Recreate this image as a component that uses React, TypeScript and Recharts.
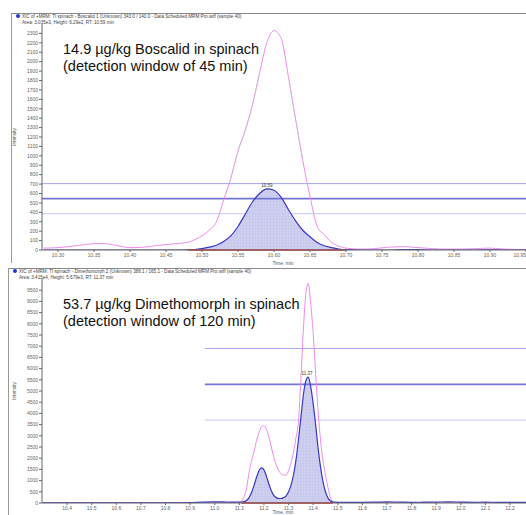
import React from 'react'
import { ComposedChart, Line, Area, XAxis, YAxis, ReferenceLine, ReferenceDot } from 'recharts'

const FONT = '"Liberation Sans", Arial, sans-serif'

// ---- Boscalid (top panel) ----
const boscalidTime = [
  10.28, 10.30, 10.32, 10.34, 10.36, 10.38, 10.40, 10.42, 10.44, 10.46, 10.48,
  10.49, 10.50, 10.51, 10.52, 10.53, 10.54, 10.55, 10.56, 10.57, 10.58, 10.59,
  10.60, 10.61, 10.62, 10.63, 10.64, 10.65, 10.66, 10.67, 10.68, 10.69, 10.70,
  10.72, 10.74, 10.76, 10.78, 10.80, 10.82, 10.84, 10.86, 10.88, 10.90, 10.92, 10.95,
]
const boscalidPink = [
  20, 25, 40, 60, 70, 50, 25, 30, 50, 65, 80,
  110, 150, 210, 300, 530, 760, 1050, 1270, 1540, 1880, 2200,
  2330, 2250, 1840, 1390, 950, 570, 250, 160, 80, 40, 20,
  10, 15, 30, 35, 25, 15, 10, 10, 15, 20, 10, 5,
]
const boscalidGrey = [
  null, null, null, null, null, null, null, null, null, null, null,
  null, null, null, null, null, 760, 1050, 1270, 1540, 1880, null,
  null, null, 1840, 1390, 950, null, null, null, null, null, null,
  null, null, null, null, null, null, null, null, null, null, null, null,
]
const boscalidBlue = [
  0, 0, 0, 0, 0, 0, 0, 0, 0, 0, 2,
  5, 15, 30, 50, 90, 150, 250, 380, 510, 600, 650,
  635, 560, 430, 310, 210, 140, 80, 45, 25, 10, 3,
  0, 0, 0, 5, 3, 0, 0, 0, 0, 2, 0, 0,
]
const boscalidWindow = [10.48, 10.70]
const boscalidLimits = [705, 545, 385]
const boscalidApex = { t: 10.59, v: 650, label: '10.59' }
const boscalidXTicks = [10.30, 10.35, 10.40, 10.45, 10.50, 10.55, 10.60, 10.65, 10.70, 10.75, 10.80, 10.85, 10.90, 10.95]
const boscalidYTicks = [0, 100, 200, 300, 400, 500, 600, 700, 800, 900, 1000, 1100, 1200, 1300, 1400, 1500, 1600, 1700, 1800, 1900, 2000, 2100, 2200, 2300]

// ---- Dimethomorph (bottom panel) ----
const dimethTime = [
  10.30, 10.40, 10.50, 10.60, 10.70, 10.80, 10.90, 10.95, 11.00, 11.05,
  11.10, 11.11, 11.12, 11.13, 11.14, 11.15, 11.16, 11.17, 11.18, 11.19, 11.20,
  11.21, 11.22, 11.23, 11.24, 11.25, 11.26, 11.27, 11.28, 11.29, 11.30,
  11.31, 11.32, 11.33, 11.34, 11.35, 11.36, 11.37, 11.38, 11.39, 11.40,
  11.41, 11.42, 11.43, 11.44, 11.45, 11.46, 11.47, 11.48, 11.49, 11.50,
  11.55, 11.60, 11.65, 11.70, 11.75, 11.80, 11.85, 11.90, 11.95, 12.00, 12.05, 12.10, 12.15, 12.20, 12.265,
]
const dimethPink = [
  10, 10, 10, 10, 10, 10, 15, 20, 20, 20,
  30, 100, 300, 700, 1400, 1900, 2300, 2800, 3150, 3400, 3450,
  3300, 2950, 2500, 2050, 1700, 1450, 1300, 1250, 1250, 1450,
  1800, 2250, 2900, 3600, 5500, 7700, 9300, 9800, 8900, 7600,
  5800, 4100, 2800, 1900, 1250, 700, 250, 40, 10, 0,
  10, 10, 15, 10, 10, 10, 10, 10, 10, 10, 10, 10, 10, 10, 10,
]
const dimethBlue = [
  10, 10, 10, 10, 10, 10, 15, 40, 50, 45,
  40, 45, 60, 120, 250, 480, 800, 1150, 1450, 1570, 1480,
  1200, 850, 550, 340, 240, 200, 200, 240, 320, 500,
  800, 1250, 1900, 2800, 3800, 4800, 5450, 5620, 5200, 4450,
  3500, 2450, 1600, 950, 500, 230, 100, 50, 35, 30,
  30, 30, 35, 50, 40, 30, 35, 40, 50, 40, 30, 35, 30, 30, 30,
]
const dimethWindow = [11.11, 11.48]
const dimethLimits = [6900, 5300, 3700]
const dimethLimitStart = 10.96
const dimethApex = { t: 11.375, v: 5620, label: '11.37' }
const dimethXTicks = [10.4, 10.5, 10.6, 10.7, 10.8, 10.9, 11.0, 11.1, 11.2, 11.3, 11.4, 11.5, 11.6, 11.7, 11.8, 11.9, 12.0, 12.1, 12.2]
const dimethYTicks = [0, 500, 1000, 1500, 2000, 2500, 3000, 3500, 4000, 4500, 5000, 5500, 6000, 6500, 7000, 7500, 8000, 8500, 9000, 9500]

function buildRows(time: number[], pink: number[], grey: (number | null)[] | null, blue: number[], win: number[]) {
  return time.map((t, i) => ({
    t,
    pink: pink[i],
    grey: grey ? grey[i] : null,
    blue: blue[i],
    fill: t >= win[0] - 1e-6 && t <= win[1] + 1e-6 ? blue[i] : null,
  }))
}

const tickStyle = { fontSize: 5, fill: '#666', fontFamily: FONT }

// x tick that keeps the last label inside the picture
function makeXTick(digits: number) {
  return (p: any) => {
    const nearEdge = p.x > 518
    return (
      <text
        x={nearEdge ? 526 : p.x}
        y={p.y + 4}
        textAnchor={nearEdge ? 'end' : 'middle'}
        fontSize={5}
        fill="#666"
        fontFamily={FONT}
      >
        {Number(p.payload.value).toFixed(digits)}
      </text>
    )
  }
}

function Chromatogram(props: any) {
  const { id, rows, height, marginTop, xDomain, xTicks, xDigits, yDomain, yTicks, win, limits, limitStart, apex } = props
  const limitStyle = [
    { stroke: '#a4a4ea', width: 1 },
    { stroke: '#7474d4', width: 1.8 },
    { stroke: '#c6c6f4', width: 1 },
  ]
  return (
    <ComposedChart width={526} height={height} data={rows} margin={{ top: marginTop, right: 0, bottom: 0, left: 0 }}>
      <defs>
        <pattern id={id} width="3" height="3" patternUnits="userSpaceOnUse">
          <rect width="3" height="3" fill="#cacaf0" />
          <path d="M3 0 L0 0 L0 3" stroke="#adadde" strokeWidth="0.4" fill="none" />
        </pattern>
      </defs>
      <XAxis
        type="number"
        dataKey="t"
        domain={xDomain}
        ticks={xTicks}
        allowDataOverflow
        interval={0}
        height={12}
        tick={makeXTick(xDigits)}
        tickSize={2}
        tickMargin={1}
        axisLine={{ stroke: '#666' }}
        tickLine={{ stroke: '#666' }}
      />
      <YAxis
        type="number"
        domain={yDomain}
        ticks={yTicks}
        allowDataOverflow
        interval={0}
        width={42}
        tick={tickStyle}
        tickSize={3}
        tickMargin={1}
        axisLine={{ stroke: '#666' }}
        tickLine={{ stroke: '#666' }}
      />
      {limits.map((v: number, i: number) =>
        limitStart == null ? (
          <ReferenceLine key={i} y={v} stroke={limitStyle[i].stroke} strokeWidth={limitStyle[i].width} />
        ) : (
          <ReferenceLine
            key={i}
            segment={[{ x: limitStart, y: v }, { x: xDomain[1], y: v }]}
            stroke={limitStyle[i].stroke}
            strokeWidth={limitStyle[i].width}
          />
        )
      )}
      <Area type="monotone" dataKey="fill" stroke="none" fill={`url(#${id})`} fillOpacity={0.9} isAnimationActive={false} />
      <Line type="monotone" dataKey="pink" stroke="#ee8cee" strokeWidth={1} dot={false} isAnimationActive={false} />
      <Line type="monotone" dataKey="grey" stroke="#c4c4c4" strokeOpacity={0.55} strokeWidth={1} dot={false} isAnimationActive={false} />
      <Line type="monotone" dataKey="blue" stroke="#3838c6" strokeWidth={1.2} dot={false} isAnimationActive={false} />
      <ReferenceLine segment={[{ x: win[0], y: 0 }, { x: win[1], y: 0 }]} stroke="#d23232" strokeWidth={1.3} />
      <ReferenceDot
        x={apex.t}
        y={apex.v}
        r={0}
        stroke="none"
        label={{ value: apex.label, position: 'top', offset: 2, style: { fontSize: 4.5, fill: '#333', fontFamily: FONT } }}
      />
    </ComposedChart>
  )
}

function Header({ top, left, lines }: { top: number; left: number; lines: string[] }) {
  return (
    <>
      <div style={{ position: 'absolute', top, left, width: 526 - left, borderTop: '1.5px solid #8a8a8a' }} />
      <div style={{ position: 'absolute', top, left, height: 250, borderLeft: '1px solid #9a9a9a' }} />
      <div style={{ position: 'absolute', top: top + 1, left: left + 5, width: 4, height: 4, borderRadius: 2, background: '#1f35d8' }} />
      <div style={{ position: 'absolute', top: top + 1, left: left + 11, fontFamily: FONT, fontSize: 4.6, lineHeight: '5.6px', color: '#444', whiteSpace: 'nowrap' }}>
        {lines.map((l) => (
          <div key={l}>{l}</div>
        ))}
      </div>
    </>
  )
}

function Note({ top, lines }: { top: number; lines: string[] }) {
  return (
    <div style={{ position: 'absolute', top, left: 63, fontFamily: FONT, fontSize: 14.5, lineHeight: '17px', color: '#111', whiteSpace: 'nowrap' }}>
      {lines.map((l) => (
        <div key={l}>{l}</div>
      ))}
    </div>
  )
}

function SmallLabel({ text, x, y, rotate }: { text: string; x: number; y: number; rotate?: boolean }) {
  return (
    <div
      style={{
        position: 'absolute',
        left: x,
        top: y,
        transform: `translate(-50%, -50%)${rotate ? ' rotate(-90deg)' : ''}`,
        fontFamily: FONT,
        fontSize: 4.8,
        color: '#555',
        whiteSpace: 'nowrap',
      }}
    >
      {text}
    </div>
  )
}

export default function App() {
  const topRows = buildRows(boscalidTime, boscalidPink, boscalidGrey, boscalidBlue, boscalidWindow)
  const bottomRows = buildRows(dimethTime, dimethPink, null, dimethBlue, dimethWindow)
  return (
    <div style={{ position: 'absolute', left: 0, top: 0, width: 526, height: 515, overflow: 'hidden', background: '#fff' }}>
      <div style={{ position: 'absolute', left: 0, top: 0 }}>
        <Chromatogram
          id="gridTop"
          rows={topRows}
          height={262}
          marginTop={24}
          xDomain={[10.2778, 10.95]}
          xTicks={boscalidXTicks}
          xDigits={2}
          yDomain={[0, 2400]}
          yTicks={boscalidYTicks}
          win={boscalidWindow}
          limits={boscalidLimits}
          limitStart={null}
          apex={boscalidApex}
        />
      </div>
      <div style={{ position: 'absolute', left: 0, top: 268 }}>
        <Chromatogram
          id="gridBottom"
          rows={bottomRows}
          height={247}
          marginTop={11}
          xDomain={[10.298, 12.265]}
          xTicks={dimethXTicks}
          xDigits={1}
          yDomain={[0, 10000]}
          yTicks={dimethYTicks}
          win={dimethWindow}
          limits={dimethLimits}
          limitStart={dimethLimitStart}
          apex={dimethApex}
        />
      </div>
      <Header
        top={13}
        left={11}
        lines={[
          'XIC of +MRM: TI spinach - Boscalid 1 (Unknown) 343.0 / 140.0 - Data Scheduled MRM Pro.wiff (sample 40)',
          'Area: 3.035e3, Height: 6.29e2, RT: 10.59 min',
        ]}
      />
      <Header
        top={268}
        left={8}
        lines={[
          'XIC of +MRM: TI spinach - Dimethomorph 2 (Unknown) 388.1 / 165.1 - Data Scheduled MRM Pro.wiff (sample 40)',
          'Area: 3.415e4, Height: 5.679e3, RT: 11.37 min',
        ]}
      />
      <Note top={41} lines={['14.9 µg/kg Boscalid in spinach', '(detection window of 45 min)']} />
      <Note top={296} lines={['53.7 µg/kg Dimethomorph in spinach', '(detection window of 120 min)']} />
      <SmallLabel text="Intensity" x={14} y={137} rotate />
      <SmallLabel text="Intensity" x={14} y={391} rotate />
      <SmallLabel text="Time, min" x={283} y={263} />
      <SmallLabel text="Time, min" x={283} y={512} />
    </div>
  )
}
